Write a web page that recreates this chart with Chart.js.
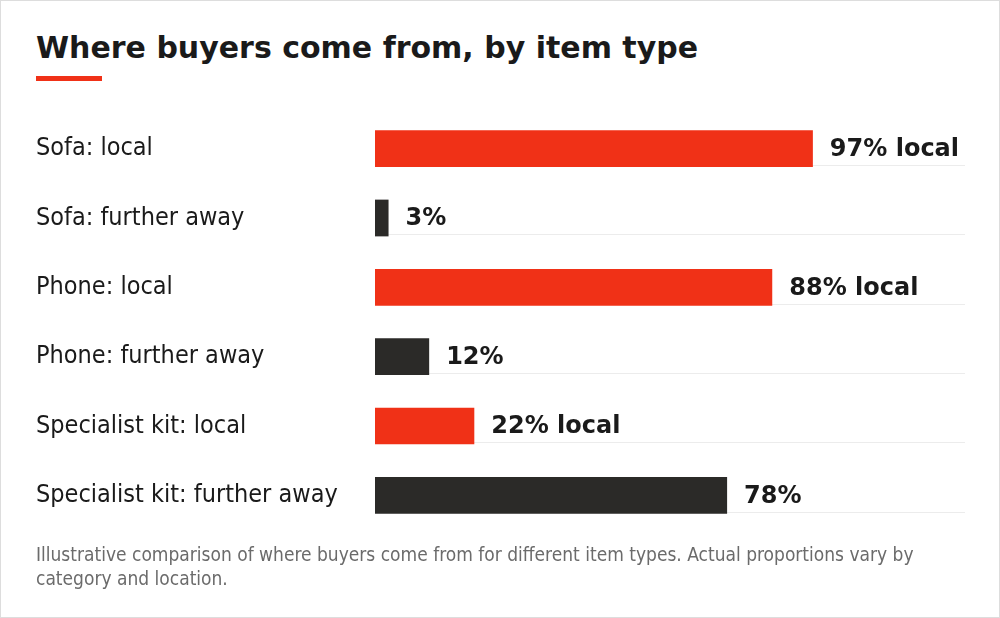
<!DOCTYPE html>
<html>
<head>
<meta charset="utf-8">
<script src="https://cdn.jsdelivr.net/npm/chart.js@4"></script>
<style>
  html, body { margin: 0; padding: 0; background: #fff; }
  .frame { position: relative; width: 998px; height: 616px; border: 1px solid #ddd; font-family: "DejaVu Sans", sans-serif; overflow: hidden; }
  h1 { position: absolute; left: 35px; top: 29px; margin: 0; font-size: 30px; font-weight: bold; color: #1a1a1a; }
  .rule { position: absolute; left: 35px; top: 75px; width: 66px; height: 5px; background: #f03117; }
  .wrap { position: absolute; left: -1px; top: 98px; width: 1000px; height: 446px; }
  .note { position: absolute; left: 35px; top: 541px; width: 920px; font-family: "DejaVu Sans Condensed", "DejaVu Sans", sans-serif; font-size: 19px; line-height: 24px; color: #6b6b6b; }
</style>
</head>
<body>
<div class="frame">
  <h1>Where buyers come from, by item type</h1>
  <div class="rule"></div>
  <div class="wrap"><canvas id="chart"></canvas></div>
  <div class="note">Illustrative comparison of where buyers come from for different item types. Actual proportions vary by category and location.</div>
</div>
<script>
const categorias = ["Sofa: local", "Sofa: further away", "Phone: local", "Phone: further away", "Specialist kit: local", "Specialist kit: further away"];
const valores = [97, 3, 88, 12, 22, 78];
const rotulos = ["97% local", "3%", "88% local", "12%", "22% local", "78%"];
const cores = ["#f03117", "#2b2a28", "#f03117", "#2b2a28", "#f03117", "#2b2a28"];

const linhasERotulos = {
    id: 'linhasERotulos',
    beforeDatasetsDraw(chart) {
        const ctx = chart.ctx;
        const area = chart.chartArea;
        ctx.save();
        ctx.strokeStyle = '#ececec';
        ctx.lineWidth = 1;
        chart.getDatasetMeta(0).data.forEach(bar => {
            const y = Math.round(bar.y + bar.height / 2) - 1.5;
            ctx.beginPath();
            ctx.moveTo(area.left, y);
            ctx.lineTo(area.right, y);
            ctx.stroke();
        });
        ctx.restore();
    },
    afterDatasetsDraw(chart) {
        const ctx = chart.ctx;
        ctx.save();
        ctx.font = 'bold 24px "DejaVu Sans"';
        ctx.fillStyle = '#1a1a1a';
        ctx.textBaseline = 'middle';
        chart.getDatasetMeta(0).data.forEach((bar, i) => {
            ctx.fillText(rotulos[i], bar.x + 17, bar.y + 1);
        });
        ctx.restore();
    }
};

new Chart(document.getElementById('chart'), {
    type: 'bar',
    data: {
        labels: categorias,
        datasets: [{
            data: valores,
            backgroundColor: cores,
            barPercentage: 1,
            categoryPercentage: 0.53
        }]
    },
    options: {
        indexAxis: 'y',
        responsive: true,
        maintainAspectRatio: false,
        animation: false,
        layout: { padding: { left: 36, right: 35, top: 0, bottom: 0 } },
        plugins: { legend: { display: false }, tooltip: { enabled: false } },
        scales: {
            x: { min: 0, max: 130.7, display: false },
            y: {
                grid: { display: false },
                border: { display: false },
                afterFit(axis) { axis.width = 339; },
                ticks: {
                    crossAlign: 'far',
                    color: '#1a1a1a',
                    font: { family: 'DejaVu Sans Condensed', size: 25 },
                    padding: 0
                }
            }
        }
    },
    plugins: [linhasERotulos]
});
</script>
</body>
</html>
